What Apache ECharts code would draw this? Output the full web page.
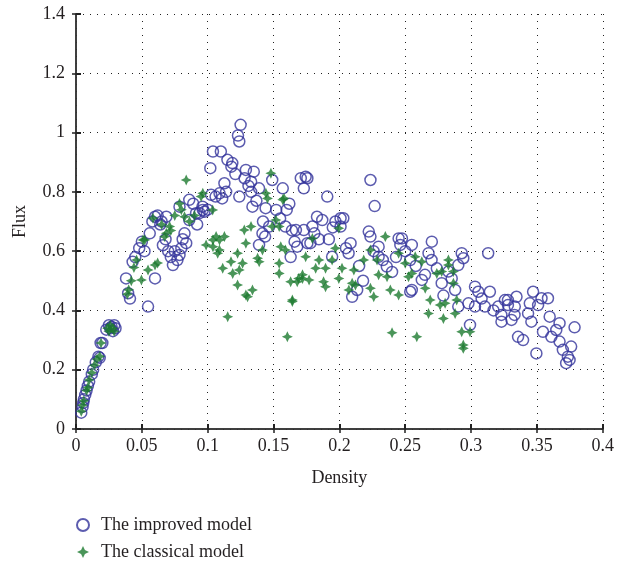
<!DOCTYPE html>
<html>
<head>
<meta charset="utf-8">
<script src="https://cdn.jsdelivr.net/npm/echarts@6/dist/echarts.min.js"></script>
<style>html,body{margin:0;padding:0;background:#fff;}#c{width:617px;height:569px;}</style>
</head>
<body>
<div id="c"></div>
<script>
const xTicks = [0, 0.05, 0.1, 0.15, 0.2, 0.25, 0.3, 0.35, 0.4];
const yTicks = [0, 0.2, 0.4, 0.6, 0.8, 1, 1.2, 1.4];
const seriesNames = ['The improved model', 'The classical model'];

const improvedDensity = [0.004,0.005,0.0055,0.006,0.007,0.008,0.009,0.010,0.012,0.013,0.015,0.017,0.018,0.0187,0.020,0.023,0.025,0.026,0.027,0.028,0.029,0.030,
0.038,0.0396,0.041,0.043,0.045,0.048,0.050,0.052,0.0547,0.056,0.058,0.060,0.060,0.062,0.064,0.066,0.0686,0.070,0.072,0.0736,0.075,0.0786,0.080,0.0824,0.0837,0.086,0.086,0.0786,0.0912,0.0938,0.096,0.0963,0.0975,
0.065,0.068,0.077,0.081,0.089,0.092,0.1,
0.1026,0.104,0.102,0.106,0.109,0.110,0.111,0.1127,0.114,0.115,0.118,0.1187,0.123,0.124,0.125,0.124,0.128,0.129,0.133,0.133,0.134,0.135,0.139,0.139,0.1416,0.1436,0.144,0.1467,0.149,0.152,0.157,0.159,0.160,
0.121,0.131,0.137,0.142,0.155,0.162,0.164,
0.163,0.166,0.167,0.168,0.1707,0.173,0.1744,0.1757,0.173,0.1757,0.178,0.1795,0.183,0.1845,0.187,0.1908,0.192,0.1945,0.197,0.2009,0.2009,0.203,0.207,0.2085,0.2097,0.2135,0.218,0.2223,0.2236,0.2236,0.2268,0.2298,0.2298,0.236,0.24,
0.181,0.195,0.205,0.215,0.226,0.233,0.243,
0.245,0.2463,0.2475,0.25,0.2538,0.2538,0.255,0.255,0.2626,0.265,0.2677,0.27,0.2702,0.274,0.2777,0.2828,0.2853,0.2879,0.2903,0.2903,0.2929,0.2941,0.298,0.2992,0.303,0.303,0.3055,0.3105,0.313,0.3143,0.3206,
0.258,0.279,0.308,0.317,
0.323,0.3231,0.3257,0.328,0.328,0.3307,0.3332,0.333,0.3345,0.3357,0.3395,0.3433,0.3446,0.3458,0.3471,0.3496,0.3509,0.3535,0.3546,0.3584,0.3597,0.361,0.3647,0.3672,0.3672,0.3697,0.3722,0.3735,0.3748,0.376,0.3786];
const improvedFlux = [0.055,0.075,0.088,0.10,0.115,0.13,0.145,0.16,0.185,0.20,0.225,0.244,0.24,0.29,0.29,0.335,0.35,0.34,0.345,0.33,0.35,0.34,
0.508,0.458,0.44,0.564,0.58,0.61,0.632,0.60,0.413,0.66,0.70,0.716,0.508,0.72,0.69,0.62,0.716,0.60,0.58,0.553,0.60,0.587,0.61,0.66,0.627,0.705,0.773,0.75,0.728,0.728,0.75,0.739,0.733,
0.70,0.64,0.57,0.64,0.76,0.69,0.74,
0.79,0.936,0.88,0.784,0.795,0.936,0.778,0.829,0.80,0.908,0.885,0.897,0.99,0.97,1.026,0.784,0.846,0.874,0.834,0.80,0.75,0.868,0.812,0.621,0.66,0.649,0.745,0.683,0.84,0.739,0.812,0.683,0.739,
0.86,0.82,0.77,0.70,0.71,0.76,0.67,
0.58,0.632,0.671,0.615,0.846,0.671,0.851,0.846,0.812,0.627,0.627,0.683,0.716,0.64,0.705,0.784,0.64,0.581,0.70,0.711,0.683,0.711,0.593,0.627,0.446,0.469,0.50,0.666,0.84,0.649,0.752,0.581,0.615,0.548,0.53,
0.66,0.68,0.61,0.55,0.60,0.57,0.58,
0.643,0.621,0.643,0.60,0.57,0.463,0.621,0.469,0.503,0.52,0.593,0.57,0.632,0.542,0.492,0.531,0.508,0.469,0.553,0.413,0.593,0.576,0.424,0.351,0.48,0.413,0.463,0.413,0.593,0.463,0.413,
0.55,0.45,0.44,0.40,
0.385,0.362,0.435,0.435,0.418,0.368,0.413,0.385,0.446,0.311,0.30,0.39,0.424,0.362,0.463,0.255,0.418,0.441,0.328,0.441,0.379,0.311,0.334,0.357,0.295,0.267,0.222,0.244,0.233,0.278,0.343];

const classicalDensity = [0.004,0.005,0.006,0.008,0.009,0.010,0.012,0.014,0.016,0.018,0.019,0.024,0.025,0.026,0.028,0.029,
0.039,0.040,0.042,0.044,0.046,0.0497,0.0509,0.0522,0.0547,0.0585,0.06,0.062,0.0673,0.0686,0.0711,0.075,0.0786,0.0824,0.0837,0.0862,0.095,0.0963,0.0988,
0.065,0.072,0.08,0.09,
0.1038,0.104,0.104,0.1064,0.1076,0.1089,0.109,0.1114,0.1127,0.1152,0.1177,0.119,0.1227,0.1227,0.124,0.1265,0.1278,0.129,0.129,0.1303,0.1329,0.134,0.1379,0.1391,0.1416,0.1442,0.1454,0.148,0.149,
0.1518,0.1543,0.1543,0.1543,0.1555,0.157,0.158,0.159,0.1605,0.163,0.1643,0.1643,0.168,0.169,0.172,0.172,0.1744,0.177,0.1795,0.182,0.1845,0.188,0.1895,0.1895,0.1945,0.197,0.1996,0.1996,
0.202,0.2072,0.2097,0.211,0.2122,0.2185,0.2236,0.2236,0.2261,0.2286,0.2298,0.2349,0.2362,0.2387,0.24,0.245,0.245,0.25,0.2525,0.255,0.2576,0.2588,0.2626,0.2652,0.2677,0.269,
0.274,0.2765,0.2777,0.279,0.2803,0.2828,0.2828,0.2866,0.2866,0.2879,0.2891,0.2929,0.2941,0.2941,0.2992];
const classicalFlux = [0.06,0.08,0.095,0.13,0.14,0.165,0.19,0.215,0.235,0.245,0.29,0.34,0.33,0.35,0.34,0.33,
0.455,0.47,0.50,0.545,0.57,0.503,0.638,0.638,0.536,0.711,0.553,0.56,0.649,0.66,0.683,0.72,0.761,0.716,0.84,0.70,0.784,0.795,0.621,
0.69,0.67,0.74,0.72,
0.739,0.615,0.638,0.649,0.593,0.604,0.638,0.542,0.649,0.379,0.564,0.525,0.593,0.486,0.536,0.559,0.671,0.627,0.452,0.446,0.683,0.469,0.576,0.564,0.604,0.795,0.778,0.863,0.683,
0.705,0.683,0.559,0.525,0.615,0.773,0.778,0.604,0.311,0.497,0.43,0.435,0.497,0.508,0.52,0.508,0.581,0.503,0.643,0.542,0.57,0.497,0.542,0.48,0.57,0.61,0.677,0.508,
0.542,0.469,0.492,0.536,0.486,0.57,0.604,0.475,0.446,0.57,0.52,0.649,0.514,0.469,0.325,0.593,0.452,0.559,0.514,0.525,0.581,0.311,0.564,0.475,0.39,0.435,
0.525,0.418,0.531,0.373,0.424,0.57,0.553,0.492,0.531,0.39,0.435,0.328,0.283,0.272,0.328];

const zip = (a, b) => a.map((v, i) => [v, b[i]]);
const FONT = '"Liberation Serif", "DejaVu Serif", serif';
const TXT = '#231f20';
const star = 'path://M0,-10 L3.2,-3.2 L10,0 L3.2,3.2 L0,10 L-3.2,3.2 L-10,0 L-3.2,-3.2 Z';

const chart = echarts.init(document.getElementById('c'), null, {renderer: 'canvas'});
const axisLine = {show: true, lineStyle: {color: '#333', width: 1.5}};
chart.setOption({
  animation: false,
  backgroundColor: '#fff',
  grid: {left: 76, right: 12, top: 14, bottom: 140, containLabel: false},
  xAxis: [{
    type: 'value', min: xTicks[0], max: xTicks[xTicks.length - 1], interval: 0.05,
    name: 'Density', nameLocation: 'middle', nameGap: 40,
    nameTextStyle: {fontFamily: FONT, fontSize: 18, color: TXT},
    axisLine: axisLine,
    axisTick: {show: true, inside: true, length: 5, lineStyle: {color: '#222', width: 2}},
    axisLabel: {fontFamily: FONT, fontSize: 18, color: TXT, margin: 8,
      formatter: v => String(+v.toFixed(2))},
    splitLine: {show: true, lineStyle: {type: [1, 6], color: '#222', width: 1}}
  }, {
    type: 'value', position: 'top', min: 0, max: 0.4, interval: 0.05,
    axisLine: axisLine,
    axisTick: {show: true, inside: true, length: 4, lineStyle: {color: '#222', width: 1.5}},
    axisLabel: {show: false}, splitLine: {show: false}
  }],
  yAxis: [{
    type: 'value', min: yTicks[0], max: yTicks[yTicks.length - 1], interval: 0.2,
    name: 'Flux', nameLocation: 'middle', nameGap: 47, nameRotate: 90,
    nameTextStyle: {fontFamily: FONT, fontSize: 18, color: TXT},
    axisLine: axisLine,
    axisTick: {show: true, inside: true, length: 5, lineStyle: {color: '#222', width: 2}},
    axisLabel: {fontFamily: FONT, fontSize: 18, color: TXT, margin: 11,
      formatter: v => String(+v.toFixed(1))},
    splitLine: {show: true, lineStyle: {type: [1, 6], color: '#222', width: 1}}
  }, {
    type: 'value', position: 'right', min: 0, max: 1.4, interval: 0.2,
    axisLine: axisLine,
    axisTick: {show: true, inside: true, length: 4, lineStyle: {color: '#222', width: 1.5}},
    axisLabel: {show: false}, splitLine: {show: false}
  }],
  legend: {
    orient: 'vertical', left: 76, top: 516, padding: 0, itemGap: 9,
    itemWidth: 12, itemHeight: 12,
    textStyle: {fontFamily: FONT, fontSize: 18, color: TXT, padding: [0, 0, 0, 7]},
    data: seriesNames
  },
  series: [{
    name: seriesNames[0], type: 'scatter', xAxisIndex: 0, yAxisIndex: 0,
    symbol: 'circle', symbolSize: 11,
    itemStyle: {color: 'rgba(255,255,255,0)', borderColor: '#33339b', borderWidth: 1.5},
    data: zip(improvedDensity, improvedFlux)
  }, {
    name: seriesNames[1], type: 'scatter', xAxisIndex: 0, yAxisIndex: 0,
    symbol: star, symbolSize: 11,
    itemStyle: {color: '#1d7a30'},
    data: zip(classicalDensity, classicalFlux)
  }]
});
</script>
</body>
</html>
